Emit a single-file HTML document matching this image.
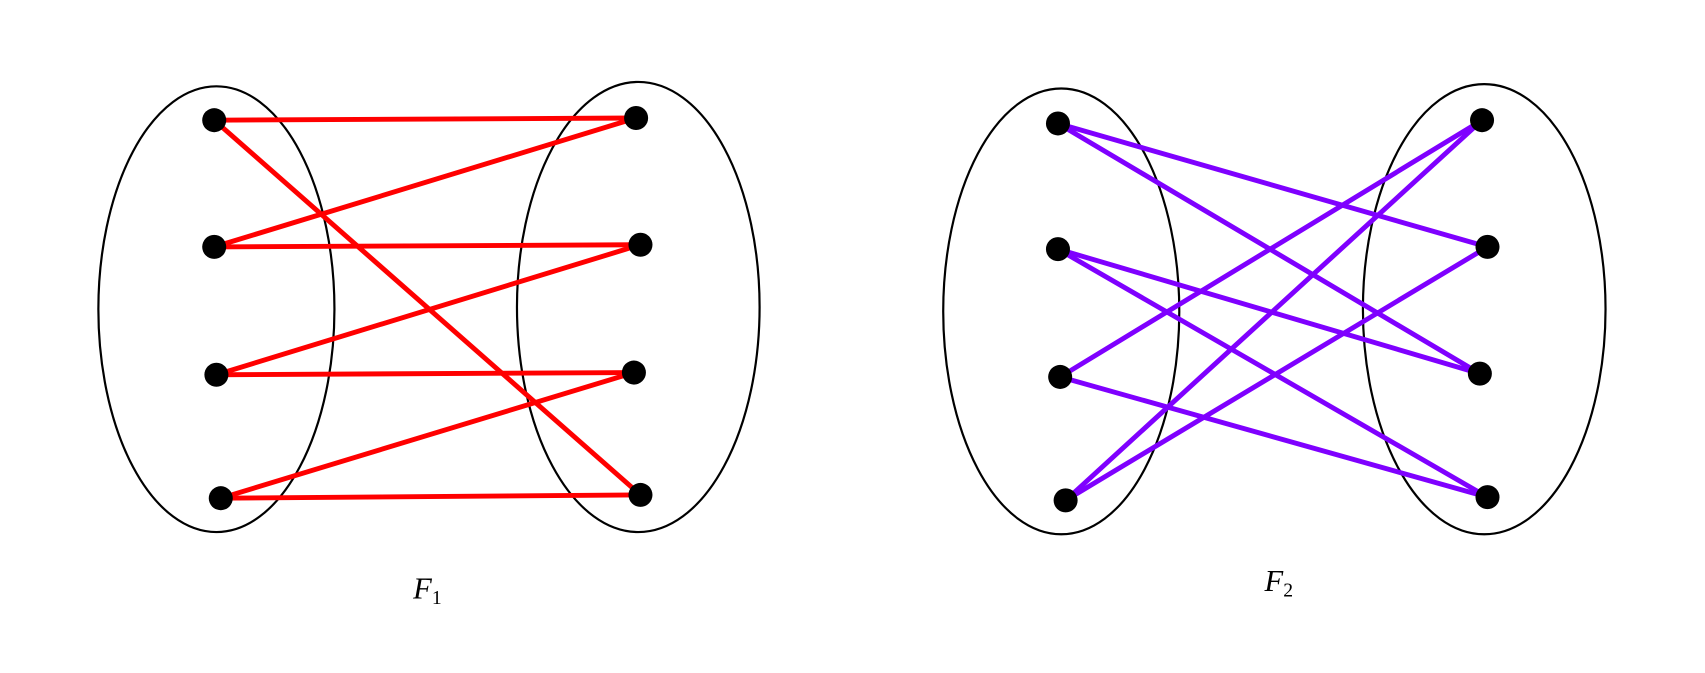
<!DOCTYPE html>
<html><head><style>html,body{margin:0;padding:0;background:#fff;}svg{display:block}</style></head>
<body>
<svg width="1705" height="673" viewBox="0 0 1560 616" preserveAspectRatio="none" xmlns="http://www.w3.org/2000/svg">
<g fill="none" stroke="#000" stroke-width="2">
<ellipse cx="198" cy="283" rx="108" ry="204"/>
<ellipse cx="584" cy="281" rx="111" ry="206"/>
<g transform="translate(-5,0)">
<ellipse cx="976" cy="285" rx="108" ry="204"/>
<ellipse cx="1363" cy="283" rx="111" ry="206"/>
</g>
</g>
<g stroke="#ff0000" stroke-width="4.5" stroke-linecap="round">
<line x1="196" y1="110" x2="582" y2="108"/>
<line x1="196" y1="110" x2="586" y2="453"/>
<line x1="196" y1="226" x2="582" y2="108"/>
<line x1="196" y1="226" x2="586" y2="224"/>
<line x1="198" y1="343" x2="586" y2="224"/>
<line x1="198" y1="343" x2="580" y2="341"/>
<line x1="202" y1="456" x2="580" y2="341"/>
<line x1="202" y1="456" x2="586" y2="453"/>
</g>
<g transform="translate(-5,0)">
<g stroke="#7f00ff" stroke-width="4.5" stroke-linecap="round">
<line x1="973" y1="113" x2="1366" y2="226"/>
<line x1="973" y1="113" x2="1359" y2="342"/>
<line x1="973" y1="228" x2="1359" y2="342"/>
<line x1="973" y1="228" x2="1366" y2="455"/>
<line x1="975" y1="345" x2="1361" y2="110"/>
<line x1="975" y1="345" x2="1366" y2="455"/>
<line x1="980" y1="458" x2="1361" y2="110"/>
<line x1="980" y1="458" x2="1366" y2="226"/>
</g>
<g fill="#000">
<circle cx="973" cy="113" r="11"/><circle cx="973" cy="228" r="11"/><circle cx="975" cy="345" r="11"/><circle cx="980" cy="458" r="11"/>
<circle cx="1361" cy="110" r="11"/><circle cx="1366" cy="226" r="11"/><circle cx="1359" cy="342" r="11"/><circle cx="1366" cy="455" r="11"/>
</g>
</g>
<g fill="#000">
<circle cx="196" cy="110" r="11"/><circle cx="196" cy="226" r="11"/><circle cx="198" cy="343" r="11"/><circle cx="202" cy="456" r="11"/>
<circle cx="582" cy="108" r="11"/><circle cx="586" cy="224" r="11"/><circle cx="580" cy="341" r="11"/><circle cx="586" cy="453" r="11"/>
</g>
<text x="378" y="548" font-family="Liberation Serif, serif" font-style="italic" font-size="28">F<tspan font-style="normal" font-size="18" dy="5">1</tspan></text>
<text x="1157" y="541" font-family="Liberation Serif, serif" font-style="italic" font-size="28">F<tspan font-style="normal" font-size="18" dy="5">2</tspan></text>
</svg>
</body></html>
